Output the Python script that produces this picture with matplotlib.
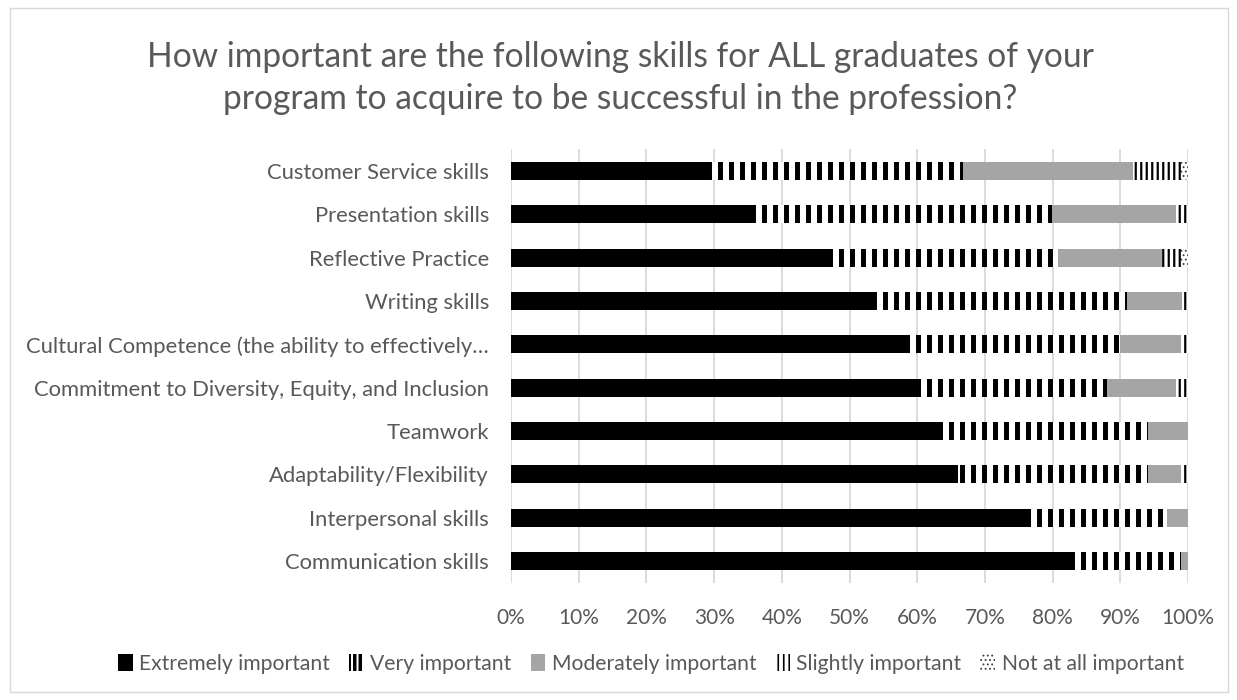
import matplotlib
matplotlib.use("Agg")
import matplotlib.pyplot as plt
from matplotlib.patches import Patch
from matplotlib.ticker import PercentFormatter, MultipleLocator
import numpy as np

# ---- data (bottom to top) ----
categories = [
    "Communication skills",
    "Interpersonal skills",
    "Adaptability/Flexibility",
    "Teamwork",
    "Commitment to Diversity, Equity, and Inclusion",
    "Cultural Competence (the ability to effectively\u2026",
    "Writing skills",
    "Reflective Practice",
    "Presentation skills",
    "Customer Service skills",
]
extremely = [83.0, 76.2, 66.0, 63.6, 60.1, 58.9, 53.6, 47.4, 36.0, 29.3]
very      = [16.0, 20.7, 28.1, 30.5, 27.9, 31.1, 37.4, 33.4, 43.9, 37.5]
moderate  = [1.0, 3.1, 4.9, 5.9, 10.1, 9.0, 8.1, 15.4, 18.2, 25.1]
slightly  = [0.0, 0.0, 1.0, 0.0, 1.9, 1.0, 0.9, 2.8, 1.9, 7.0]
not_at_all = [0.0, 0.0, 0.0, 0.0, 0.0, 0.0, 0.0, 1.0, 0.0, 1.1]
series_names = ["Extremely important", "Very important", "Moderately important",
                "Slightly important", "Not at all important"]
title = ("How important are the following skills for ALL graduates of your\n"
         "program to acquire to be successful in the profession?")

DPI = 132
W, H = 1237, 700
plt.rcParams['font.family'] = ['Lato', 'DejaVu Sans']
TXT = '#595959'

fig = plt.figure(figsize=(W / DPI, H / DPI), dpi=DPI)
ax = fig.add_axes([511 / W, 1 - 582.7 / H, (1188 - 511) / W, (582.7 - 149.3) / H])

y = np.arange(len(categories))
bh = 0.42
styles = [
    dict(color='black', hatch=None, lw_h=1.0, ec='black', lh=None, lhw=1.0),
    dict(color='white', hatch='||', lw_h=2.7, ec='black', lh='||||', lhw=1.9),
    dict(color='#A5A5A5', hatch=None, lw_h=1.0, ec='#A5A5A5', lh=None, lhw=1.0),
    dict(color='white', hatch='||||', lw_h=1.2, ec='black', lh='||||', lhw=0.9),
    dict(color='white', hatch='.....', lw_h=0.6, ec='#404040', lh='.....', lhw=0.6),
]
data = [extremely, very, moderate, slightly, not_at_all]
left = np.zeros(len(categories))
for vals, st, name in zip(data, styles, series_names):
    vals = np.array(vals)
    plt.rcParams['hatch.linewidth'] = st['lw_h']
    if st['hatch']:
        bars = ax.barh(y, vals, left=left, height=bh, color=st['color'],
                       edgecolor=st['ec'], linewidth=0, hatch=st['hatch'], label=name)
    else:
        bars = ax.barh(y, vals, left=left, height=bh, color=st['color'],
                       linewidth=0, label=name)
    for p in bars.patches:
        if hasattr(p, 'set_hatch_linewidth'):
            p.set_hatch_linewidth(st['lw_h'])
    left += vals

# legend handles
handles = []
for st, name in zip(styles, series_names):
    if st['lh']:
        h = Patch(facecolor=st['color'], edgecolor=st['ec'], linewidth=0,
                  hatch=st['lh'], label=name)
    else:
        h = Patch(facecolor=st['color'], linewidth=0, label=name)
    handles.append(h)

ax.set_xlim(0, 100)
ax.set_ylim(-0.5, len(categories) - 0.5)
ax.xaxis.set_major_locator(MultipleLocator(10))
ax.xaxis.set_major_formatter(PercentFormatter(decimals=0))
ax.set_yticks(y)
ax.set_yticklabels(categories)
ax.grid(axis='x', color='#D9D9D9', linewidth=1.0)
ax.set_axisbelow(True)
for s in ax.spines.values():
    s.set_visible(False)
ax.tick_params(axis='both', length=0, colors=TXT)
ax.tick_params(axis='y', pad=12, labelsize=12)
ax.tick_params(axis='x', pad=14, labelsize=11.4)

fig.text(620 / W, 1 - 78 / H, title, ha='center', va='center', fontsize=18.3,
         color=TXT, linespacing=1.37)

leg = fig.legend(handles=handles, labels=series_names, loc='center',
                 bbox_to_anchor=(651 / W, 1 - 664 / H), ncol=5, frameon=False,
                 fontsize=11.5, handlelength=0.7, handleheight=0.9,
                 handletextpad=0.3, columnspacing=0.9, labelcolor=TXT)
for lp, st in zip(leg.get_patches(), styles):
    if hasattr(lp, 'set_hatch_linewidth'):
        lp.set_hatch_linewidth(st['lhw'])

# chart border
fig.patches.append(plt.Rectangle((10 / W, 8 / H), 1218 / W, 684 / H,
                                 transform=fig.transFigure, fill=False,
                                 edgecolor='#D9D9D9', linewidth=0.8))

fig.savefig('out.png', dpi=DPI)
